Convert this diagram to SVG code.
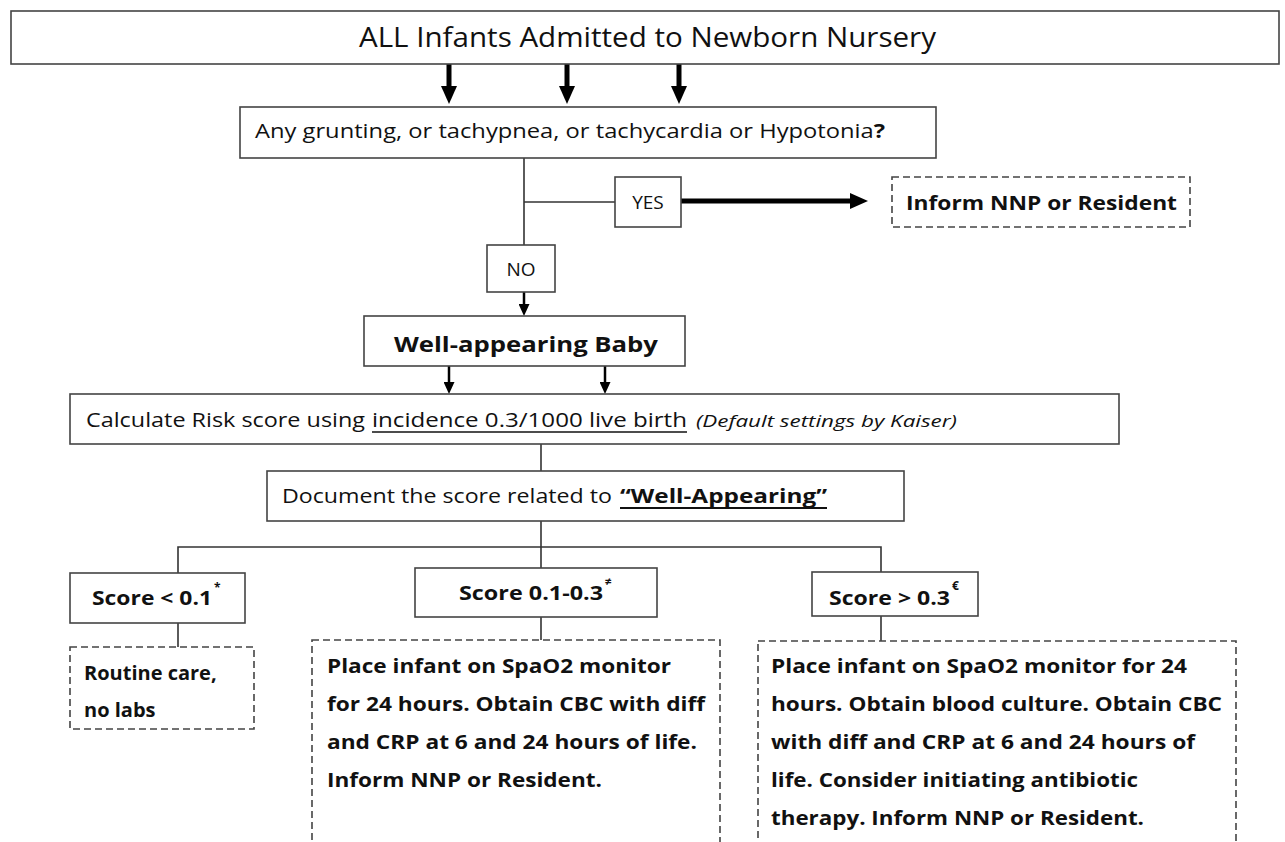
<svg xmlns="http://www.w3.org/2000/svg" width="1285" height="842" viewBox="0 0 1285 842">
<style>
  .box{fill:#fff;stroke:#444;stroke-width:1.6}
  .dbox{fill:#fff;stroke:#444;stroke-width:1.6;stroke-dasharray:7 4}
  .t{font-family:"Open Sans","Liberation Sans",Arial,sans-serif;fill:#111;font-size:20px}
  .b{font-weight:700}
  .it{font-style:italic;font-size:17px}
  .sup{font-family:"Open Sans","Liberation Sans",Arial,sans-serif;fill:#111;font-size:12px;font-weight:700}
  .ln{stroke:#333;stroke-width:1.6;fill:none}
  .thick{stroke:#000;stroke-width:5;fill:none}
  .thin{stroke:#000;stroke-width:2.5;fill:none}
  .ul{stroke:#111;stroke-width:1.3}
</style>
<defs>
  <marker id="hThick" markerUnits="userSpaceOnUse" markerWidth="18" markerHeight="16" refX="1" refY="8" orient="auto">
    <path d="M0,0 L18,8 L0,16 z" fill="#000"/>
  </marker>
  <marker id="hThin" markerUnits="userSpaceOnUse" markerWidth="12" markerHeight="11" refX="1" refY="5.5" orient="auto">
    <path d="M0,0 L12,5.5 L0,11 z" fill="#000"/>
  </marker>
</defs>

<g id="connectors">
  <line class="thick" x1="449" y1="64" x2="449" y2="87" marker-end="url(#hThick)"/>
  <line class="thick" x1="567" y1="64" x2="567" y2="87" marker-end="url(#hThick)"/>
  <line class="thick" x1="679" y1="64" x2="679" y2="87" marker-end="url(#hThick)"/>
  <polyline class="ln" points="524,158 524,245"/>
  <polyline class="ln" points="524,202 615,202"/>
  <line class="thick" x1="681" y1="201" x2="851" y2="201" marker-end="url(#hThick)"/>
  <line class="thin" x1="524" y1="292" x2="524" y2="305" marker-end="url(#hThin)"/>
  <line class="thin" x1="449" y1="366" x2="449" y2="383" marker-end="url(#hThin)"/>
  <line class="thin" x1="605" y1="366" x2="605" y2="383" marker-end="url(#hThin)"/>
  <polyline class="ln" points="541,444 541,471"/>
  <polyline class="ln" points="541,521 541,568"/>
  <polyline class="ln" points="178,573 178,547 881,547 881,572"/>
  <polyline class="ln" points="178,623 178,647"/>
  <polyline class="ln" points="541,617 541,640"/>
  <polyline class="ln" points="881,616 881,641"/>
</g>

<g id="n-all">
  <rect class="box" x="11" y="11" width="1268" height="53"/>
  <text class="t" x="359" y="47" style="font-size:28px" textLength="577" lengthAdjust="spacingAndGlyphs">ALL Infants Admitted to Newborn Nursery</text>
</g>

<g id="n-question">
  <rect class="box" x="240" y="107" width="696" height="51"/>
  <text class="t" x="255" y="138" textLength="630" lengthAdjust="spacingAndGlyphs">Any grunting, or tachypnea, or tachycardia or Hypotonia<tspan class="b">?</tspan></text>
</g>

<g id="n-yes">
  <rect class="box" x="615" y="177" width="66" height="50"/>
  <text class="t" x="648" y="209" text-anchor="middle" style="font-size:19px">YES</text>
</g>

<g id="n-inform">
  <rect class="dbox" x="892" y="177" width="298" height="50"/>
  <text class="t b" x="906" y="210" textLength="271" lengthAdjust="spacingAndGlyphs">Inform NNP or Resident</text>
</g>

<g id="n-no">
  <rect class="box" x="487" y="245" width="68" height="47"/>
  <text class="t" x="521" y="276" text-anchor="middle" style="font-size:19px">NO</text>
</g>

<g id="n-well">
  <rect class="box" x="364" y="316" width="321" height="50"/>
  <text class="t b" x="394" y="352" style="font-size:22px" textLength="264" lengthAdjust="spacingAndGlyphs">Well-appearing Baby</text>
</g>

<g id="n-calc">
  <rect class="box" x="70" y="394" width="1049" height="50"/>
  <text class="t" x="86" y="427" textLength="279" lengthAdjust="spacingAndGlyphs">Calculate Risk score using</text>
  <text class="t" x="372" y="427" textLength="315" lengthAdjust="spacingAndGlyphs">incidence 0.3/1000 live birth</text>
  <line class="ul" x1="372" y1="432" x2="687" y2="432"/>
  <text class="t it" x="696" y="427" textLength="261" lengthAdjust="spacingAndGlyphs">(Default settings by Kaiser)</text>
</g>

<g id="n-doc">
  <rect class="box" x="267" y="471" width="637" height="50"/>
  <text class="t" x="282" y="503" textLength="330" lengthAdjust="spacingAndGlyphs">Document the score related to</text>
  <text class="t b" x="620" y="503" textLength="207" lengthAdjust="spacingAndGlyphs">“Well-Appearing”</text>
  <line class="ul" x1="620" y1="508" x2="827" y2="508" style="stroke-width:1.8"/>
</g>

<g id="n-low">
  <rect class="box" x="70" y="573" width="175" height="50"/>
  <text class="t b" x="92" y="605" textLength="120" lengthAdjust="spacingAndGlyphs">Score &lt; 0.1</text>
  <text class="sup" x="214" y="592">*</text>
</g>

<g id="n-mid">
  <rect class="box" x="415" y="568" width="242" height="49"/>
  <text class="t b" x="459" y="600" textLength="144" lengthAdjust="spacingAndGlyphs">Score 0.1-0.3</text>
  <text class="sup" x="605" y="586">≠</text>
</g>

<g id="n-high">
  <rect class="box" x="812" y="572" width="166" height="44"/>
  <text class="t b" x="829" y="605" textLength="121" lengthAdjust="spacingAndGlyphs">Score &gt; 0.3</text>
  <text class="sup" x="952" y="590">€</text>
</g>

<g id="n-routine">
  <rect class="dbox" x="70" y="647" width="184" height="82"/>
  <text class="t b" x="84" y="680">Routine care,</text>
  <text class="t b" x="84" y="717">no labs</text>
</g>

<g id="n-midaction">
  <rect class="dbox" x="312" y="640" width="408" height="220"/>
  <text class="t b" x="327" y="673" textLength="344" lengthAdjust="spacingAndGlyphs">Place infant on SpaO2 monitor</text>
  <text class="t b" x="327" y="711" textLength="378" lengthAdjust="spacingAndGlyphs">for 24 hours. Obtain CBC with diff</text>
  <text class="t b" x="327" y="749" textLength="370" lengthAdjust="spacingAndGlyphs">and CRP at 6 and 24 hours of life.</text>
  <text class="t b" x="327" y="787" textLength="275" lengthAdjust="spacingAndGlyphs">Inform NNP or Resident.</text>
</g>

<g id="n-highaction">
  <rect class="dbox" x="758" y="641" width="478" height="220"/>
  <text class="t b" x="771" y="673" textLength="416" lengthAdjust="spacingAndGlyphs">Place infant on SpaO2 monitor for 24</text>
  <text class="t b" x="771" y="711" textLength="451" lengthAdjust="spacingAndGlyphs">hours. Obtain blood culture. Obtain CBC</text>
  <text class="t b" x="771" y="749" textLength="424" lengthAdjust="spacingAndGlyphs">with diff and CRP at 6 and 24 hours of</text>
  <text class="t b" x="771" y="787" textLength="367" lengthAdjust="spacingAndGlyphs">life. Consider initiating antibiotic</text>
  <text class="t b" x="771" y="825" textLength="373" lengthAdjust="spacingAndGlyphs">therapy. Inform NNP or Resident.</text>
</g>
</svg>
